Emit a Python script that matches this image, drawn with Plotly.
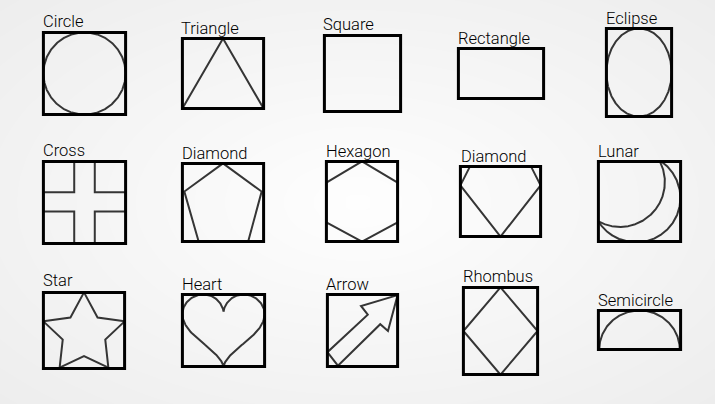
import numpy as np
import plotly.graph_objects as go

# ---------------- data ----------------
labels = ["Circle", "Triangle", "Square", "Rectangle", "Eclipse",
          "Cross", "Diamond", "Hexagon", "Diamond", "Lunar",
          "Star", "Heart", "Arrow", "Rhombus", "Semicircle"]
kinds = ["circle", "triangle", "square", "rectangle", "ellipse",
         "cross", "pentagon", "hexagon", "gem", "lunar",
         "star", "heart", "arrow", "rhombus", "semicircle"]

# ---------------- layout (pixel frame of the 715x404 canvas) ----------------
W, H = 715, 404
# outer edges of each black frame: x0, y0, x1, y1
frames = [
    (42, 31, 127, 116), (181, 37, 265, 110), (323, 34, 402, 113), (457, 47, 545, 100), (605, 27, 673, 118),
    (42, 160, 127, 245), (181, 162, 265, 243), (325, 160, 399, 243), (459, 165, 542, 238), (597, 160, 682, 243),
    (42, 291, 126, 370), (181, 293, 266, 368), (326, 293, 399, 368), (462, 286, 539, 376), (597, 309, 682, 351),
]
# label anchor (left x, vertical middle of capitals)
label_pos = [
    (43, 21), (181, 28), (323, 24.5), (458, 38), (606, 18),
    (43, 150.5), (182, 153), (326, 151.3), (461, 156), (598, 151),
    (43, 280.5), (182, 284), (326, 284.5), (463, 276.5), (598, 300),
]
LABEL_DX = -2.5

INSET = 1.4
FRAME_W = 3
SHAPE_W = 2
SHAPE_C = "#353535"

t = np.linspace(0, 2 * np.pi, 361)

# normalized templates (u right, v down)
templates = {
    "triangle": [(0.5, 0), (0, 1), (1, 1), (0.5, 0)],
    "cross": [(3/8, 0), (5/8, 0), (5/8, 3/8), (1, 3/8), (1, 0.61), (5/8, 0.61), (5/8, 1),
              (3/8, 1), (3/8, 0.61), (0, 0.61), (0, 3/8), (3/8, 3/8), (3/8, 0)],
    "pentagon": [(0.5, 0), (0.976, 0.36), (0.81, 1), (0.2, 1), (0.024, 0.36), (0.5, 0)],
    "hexagon": [(0.5, 0), (1, 0.265), (1, 0.76), (0.5, 1), (0, 0.76), (0, 0.265), (0.5, 0)],
    "gem": [(0.12, 0), (0.88, 0), (1, 0.27), (0.5, 1), (0, 0.27), (0.12, 0)],
    "star": [(0.5, 0), (0.667, 0.33), (1, 0.38), (0.762, 0.62), (0.8, 0.987), (0.5, 0.835),
             (0.2, 0.987), (0.238, 0.62), (0, 0.38), (0.333, 0.33), (0.5, 0)],
    "arrow": [(1, 0.01), (0.479, 0.16), (0.575, 0.28), (0, 0.8), (0.15, 0.987),
              (0.753, 0.413), (0.863, 0.507), (1, 0.01)],
    "rhombus": [(0.5, 0), (1, 0.5), (0.5, 1), (0, 0.5), (0.5, 0)],
    "circle": list(zip(0.5 + 0.5 * np.cos(t), 0.5 + 0.5 * np.sin(t))),
    "ellipse": list(zip(0.5 + 0.5 * np.cos(t), 0.5 + 0.5 * np.sin(t))),
}
# heart outline
hx = 16 * np.sin(t) ** 3
hy = 13 * np.cos(t) - 5 * np.cos(2 * t) - 2 * np.cos(3 * t) - np.cos(4 * t)
templates["heart"] = list(zip((hx + 16) / 32, (hy.max() - hy) / (hy.max() - hy.min())))
th = np.linspace(np.pi, 0, 181)
templates["semicircle"] = list(zip(0.5 + 0.49 * np.cos(th), 1 - 1.0 * np.sin(th)))

fig = go.Figure()

# soft radial background
gx = np.linspace(0, W, 72)
gy = np.linspace(0, H, 42)
GX, GY = np.meshgrid(gx, gy)
GZ = np.sqrt(((GX - W / 2) / (W / 2)) ** 2 + ((GY - H / 2) / (H / 2)) ** 2)
fig.add_trace(go.Heatmap(x=gx, y=gy, z=GZ, zmin=0, zmax=1.42, zsmooth="best", showscale=False,
                         hoverinfo="skip",
                         colorscale=[[0, "#fefefe"], [0.7, "#f2f2f2"], [1, "#ededed"]]))


def to_px(box, pts):
    x0, y0, x1, y1 = box
    xs = [x0 + u * (x1 - x0) for u, v in pts]
    ys = [y0 + v * (y1 - y0) for u, v in pts]
    return xs, ys


for name, kind, fr, lp in zip(labels, kinds, frames, label_pos):
    box = (fr[0] + INSET, fr[1] + INSET, fr[2] - INSET, fr[3] - INSET)
    bx0, by0, bx1, by1 = box
    bw, bh = bx1 - bx0, by1 - by0
    if kind in templates:
        xs, ys = to_px(box, templates[kind])
        fig.add_trace(go.Scatter(x=xs, y=ys, mode="lines", hoverinfo="skip",
                                 line=dict(color=SHAPE_C, width=SHAPE_W)))
    elif kind == "lunar":
        tt = np.linspace(0, 2 * np.pi, 1441)
        oc = (bx0 + 0.458 * bw, by0 + 0.456 * bh, 0.54 * bw)
        ic = (bx0 + 0.263 * bw, by0 + 0.257 * bh, 0.546 * bw)
        for c, other, inside in ((oc, ic, False), (ic, oc, True)):
            px = c[0] + c[2] * np.cos(tt)
            py = c[1] + c[2] * np.sin(tt)
            d = np.hypot(px - other[0], py - other[1])
            keep = (d < other[2]) if inside else (d > other[2])
            keep &= (px >= bx0) & (px <= bx1) & (py >= by0) & (py <= by1)
            start = int(np.argmin(keep))
            idx = np.roll(np.arange(len(tt)), -start)
            xs = [float(px[i]) if keep[i] else None for i in idx]
            ys = [float(py[i]) if keep[i] else None for i in idx]
            fig.add_trace(go.Scatter(x=xs, y=ys, mode="lines", hoverinfo="skip", connectgaps=False,
                                     line=dict(color=SHAPE_C, width=SHAPE_W)))
    fig.add_shape(type="rect", x0=bx0, y0=by0, x1=bx1, y1=by1, xref="x", yref="y",
                  line=dict(color="#000000", width=FRAME_W), layer="above")
    fig.add_annotation(x=lp[0] + LABEL_DX, y=lp[1], text=name, xref="x", yref="y", showarrow=False,
                       xanchor="left", yanchor="middle",
                       font=dict(family="Roboto", size=16.5, weight=300, color="#000000"))

fig.update_layout(
    width=W, height=H, margin=dict(l=0, r=0, t=0, b=0),
    paper_bgcolor="#f4f4f4", plot_bgcolor="#f4f4f4", showlegend=False,
    xaxis=dict(range=[0, W], visible=False, fixedrange=True),
    yaxis=dict(range=[H, 0], visible=False, fixedrange=True),
)
fig.write_html("out.html", config={"displayModeBar": False},
               post_script="document.body.style.margin='0px';document.body.style.overflow='hidden';")
